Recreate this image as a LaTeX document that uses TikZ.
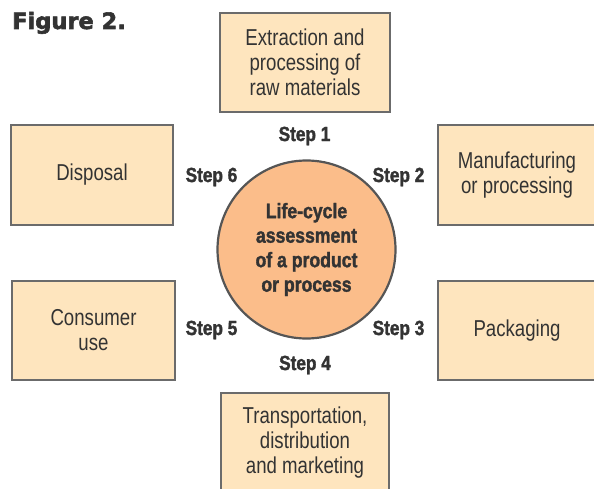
\documentclass[tikz,border=0pt]{standalone}
\usepackage{fontspec}
\setmainfont{Liberation Sans}[FakeStretch=0.81]
\newfontfamily\stepfont{Liberation Sans Bold}[FakeStretch=0.84,FakeBold=1.6]
\newfontfamily\titlefont{DejaVu Sans Bold}[FakeBold=2.5]
\definecolor{boxfill}{HTML}{FEE5BE}
\definecolor{boxline}{HTML}{6B6B6B}
\definecolor{circfill}{HTML}{FBBD8A}
\definecolor{circline}{HTML}{555555}
\definecolor{txt}{HTML}{333333}
\tikzset{
  stage/.style={draw=boxline, fill=boxfill, line width=2.6pt, align=center,
    text=txt, font=\fontsize{23}{25}\selectfont, inner sep=0pt},
  hub/.style={circle, draw=circline, fill=circfill, line width=2.2pt,
    minimum size=178pt, align=center, text=txt,
    font=\stepfont\fontsize{21}{24.5}\selectfont, inner sep=0pt},
  steplabel/.style={text=txt, font=\stepfont\fontsize{20.5}{24}\selectfont, inner sep=0pt}
}
\begin{document}
\begin{tikzpicture}[x=1pt,y=-1pt]
\useasboundingbox (0,0) rectangle (594,489);
\node[anchor=base west, inner sep=0pt, text=txt, font=\titlefont\fontsize{22.5}{24}\selectfont] (title) at (12,29) {Figure 2.};
\node[stage, minimum width=170pt, minimum height=99pt] (s1) at (305,62.5) {Extraction and\\processing of\\raw materials};
\node[stage, minimum width=158pt, minimum height=100pt] (s2) at (517,175) {Manufacturing\\or processing};
\node[stage, minimum width=158pt, minimum height=99pt] (s3) at (517,330.5) {Packaging};
\node[stage, minimum width=168pt, minimum height=100pt] (s4) at (305,443) {Transportation,\\distribution\\and marketing};
\node[stage, minimum width=163pt, minimum height=99pt] (s5) at (93.5,330.5) {Consumer\\use};
\node[stage, minimum width=162pt, minimum height=100pt] (s6) at (92,175) {Disposal};
\node[hub] (hub) at (306.5,249.5) {Life-cycle\\assessment\\of a product\\or process};
\node[steplabel] (l1) at (304.5,136) {Step 1};
\node[steplabel] (l2) at (398.5,177) {Step 2};
\node[steplabel] (l3) at (398.5,330) {Step 3};
\node[steplabel] (l4) at (305,365) {Step 4};
\node[steplabel] (l5) at (211.5,330) {Step 5};
\node[steplabel] (l6) at (211.5,177) {Step 6};
\end{tikzpicture}
\end{document}
